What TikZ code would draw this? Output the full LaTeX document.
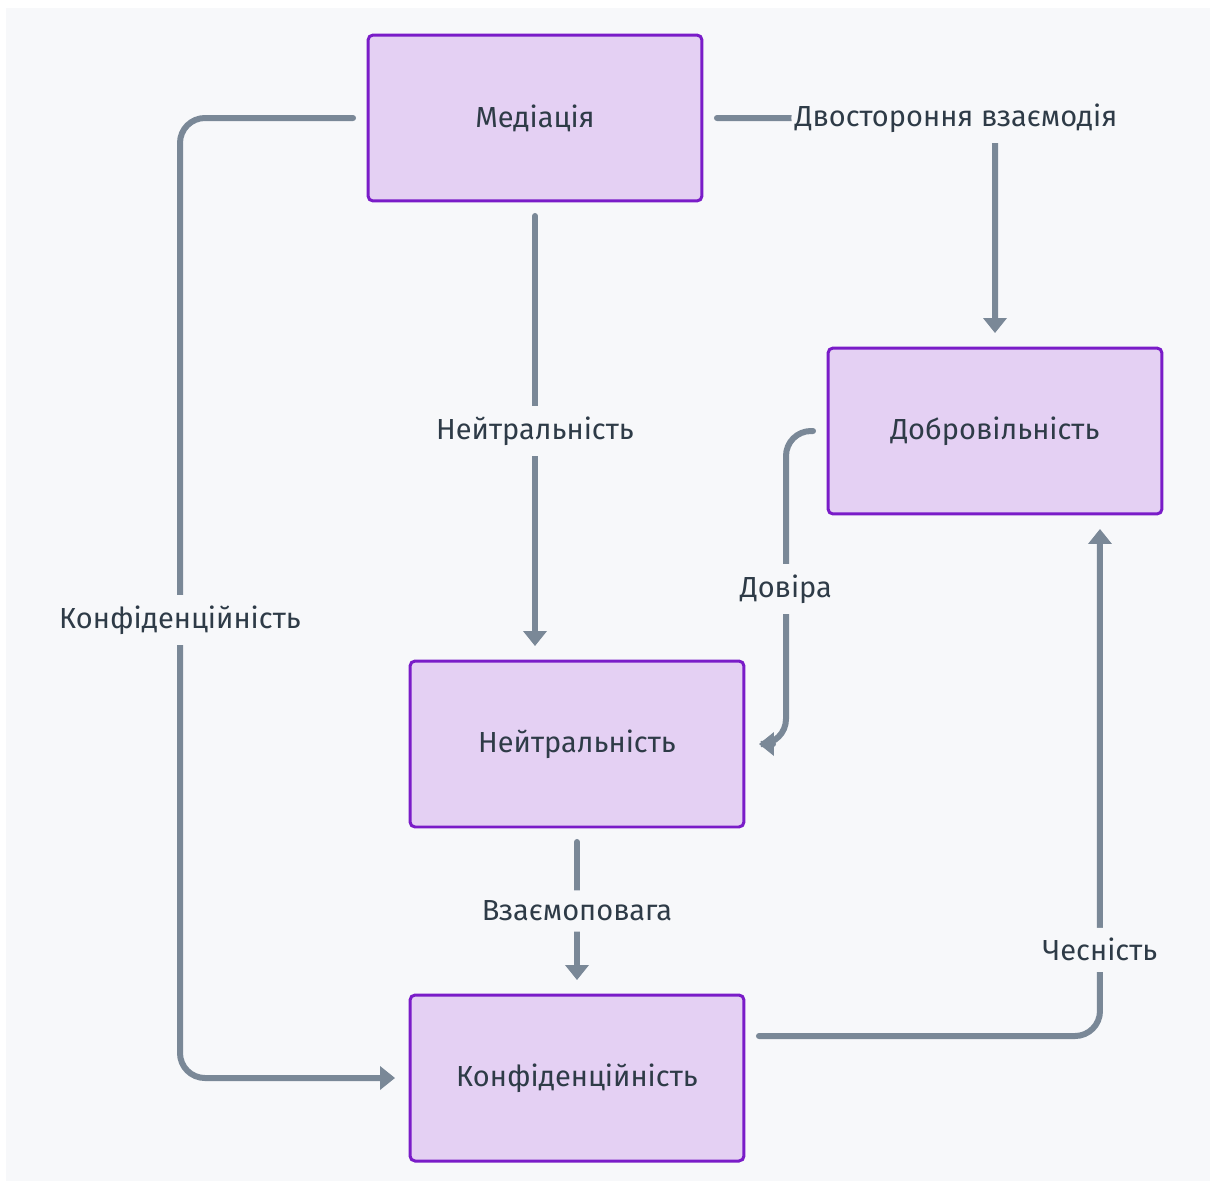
\documentclass[tikz,border=0pt]{standalone}
\usepackage{fontspec}
\setmainfont{Fira Sans}
\usepackage{xcolor}
\usepackage{tikz}
\usetikzlibrary{arrows.meta}
\usetikzlibrary{positioning}

\definecolor{bg}{HTML}{F7F8FA}
\definecolor{boxfill}{HTML}{E4D0F3}
\definecolor{boxline}{HTML}{7A1CC8}
\definecolor{edge}{HTML}{7A8897}
\definecolor{ink}{HTML}{2E3B47}

\begin{document}
\begin{tikzpicture}[
  x=0.02cm, y=-0.02cm,
  box/.style={draw=boxline, fill=boxfill, line width=0.06cm, rounded corners=0.1cm,
    minimum width=6.68cm, minimum height=3.32cm, outer sep=0.3cm,
    text=ink, font=\fontsize{16.5}{20}\selectfont},
  lbl/.style={fill=bg, text=ink, inner xsep=2pt, inner ysep=6pt,
    font=\fontsize{16.5}{20}\selectfont},
  link/.style={draw=edge, line width=0.12cm, line cap=round, rounded corners=0.5cm,
    -{Triangle[length=0.3cm, width=0.46cm]}}
]
  \useasboundingbox (0,0) rectangle (1214,1181);
  \fill[bg] (6,8) rectangle (1210,1181);

  \node[box] (med)  at (535, 118)  {Медіація};
  \node[box] (dob)  at (995, 431)  {Добровільність};
  \node[box] (neu)  at (577, 744)  {Нейтральність};
  \node[box] (konf) at (577, 1078) {Конфіденційність};

  \coordinate (kl) at (180, 620);
  \coordinate (dl) at (786, 589);

  \draw[link] (med.east) -| node[lbl, pos=0.43] (ldv) {Двостороння взаємодія} (dob.north);
  \draw[link] (med.south) -- node[lbl] (lneu) {Нейтральність} (med.south |- neu.north);
  \draw[link] (med.west) -| (kl) node[lbl] (lkonf) {Конфіденційність} |- (konf.west);
  \draw[link] (dob.west) -| (dl) node[lbl] (ldov) {Довіра} |- (neu.east);
  \draw[link] (neu.south) -- node[lbl] (lvz) {Взаємоповага} (konf.north);
  \draw[link] ([yshift=0.84cm]konf.east) -| node[lbl, pos=0.585] (lch) {Чесність} ([xshift=2.1cm]dob.south);
\end{tikzpicture}
\end{document}
